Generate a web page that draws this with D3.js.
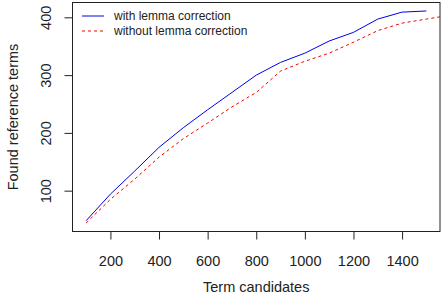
<!DOCTYPE html>
<html>
<head>
<meta charset="utf-8">
<script src="https://cdn.jsdelivr.net/npm/d3@7"></script>
<style>
	body { margin: 0; background: #fff; }
	svg { display: block; font-family: "Liberation Sans", Arial, sans-serif; }
	.lbl { fill: #222; }
</style>
</head>
<body>
<script>
// term candidates (x) and found reference terms (y)
const candidates = [100, 200, 300, 400, 500, 600, 700, 800, 900, 1000, 1100, 1200, 1300, 1400, 1500];
const withLemma = [48, 94, 134, 175, 209, 240, 270, 300, 322, 338, 359, 374, 397, 409, 411];
const candidatesNoLemma = [100, 200, 300, 400, 500, 600, 700, 800, 900, 1000, 1100, 1200, 1300, 1400, 1500, 1600];
const withoutLemma = [44, 85, 120, 158, 190, 217, 245, 270, 307, 324, 338, 357, 377, 390, 397, 404];
const xTicks = [200, 400, 600, 800, 1000, 1200, 1400];
const yTicks = [100, 200, 300, 400];
const seriesNames = ['with lemma correction', 'without lemma correction'];

const W = 445, H = 296;
const mLeft = 72.5, mRight = 440, mTop = 2.5, mBottom = 231.5;
const axisFont = '14.5px';

const svg = d3.select('body').append('svg')
	.attr('width', W)
	.attr('height', H);

// R-style 4% extension of the data range
const ext = (lo, hi) => [lo - (hi - lo) * 0.04, hi + (hi - lo) * 0.04];
const x = d3.scaleLinear()
	.domain(ext(d3.min(candidates), d3.max(candidates)))
	.range([mLeft, mRight]);
const y = d3.scaleLinear()
	.domain(ext(d3.min(withoutLemma.concat(withLemma)), d3.max(withLemma)))
	.range([mBottom, mTop]);

svg.append('defs').append('clipPath').attr('id', 'plotclip')
	.append('rect')
	.attr('x', mLeft).attr('y', mTop)
	.attr('width', mRight - mLeft).attr('height', mBottom - mTop);

// x axis
const xAxis = svg.append('g')
	.attr('transform', `translate(0,${mBottom})`)
	.call(d3.axisBottom(x).tickValues(xTicks).tickFormat(d3.format('d')).tickSize(8).tickPadding(16));
xAxis.select('.domain').remove();
xAxis.selectAll('text').attr('class', 'lbl').style('font-size', axisFont).attr('font-family', null);
xAxis.selectAll('line').attr('stroke', '#222');

// y axis, labels rotated like R
const yAxis = svg.append('g')
	.attr('transform', `translate(${mLeft},0)`)
	.call(d3.axisLeft(y).tickValues(yTicks).tickFormat(d3.format('d')).tickSize(8));
yAxis.select('.domain').remove();
yAxis.selectAll('line').attr('stroke', '#222');
yAxis.selectAll('text')
	.attr('class', 'lbl')
	.style('font-size', axisFont)
	.attr('font-family', null)
	.attr('x', null).attr('dy', null)
	.attr('text-anchor', 'middle')
	.attr('transform', 'translate(-27,0) rotate(-90)')
	.attr('dominant-baseline', 'central');

// box
svg.append('rect')
	.attr('x', mLeft).attr('y', mTop)
	.attr('width', mRight - mLeft).attr('height', mBottom - mTop)
	.attr('fill', 'none')
	.attr('stroke', '#222');

// lines
const line = d3.line().x(d => x(d[0])).y(d => y(d[1]));
const g = svg.append('g').attr('clip-path', 'url(#plotclip)');
g.append('path')
	.datum(candidates.map((c, i) => [c, withLemma[i]]))
	.attr('d', line)
	.attr('fill', 'none')
	.attr('stroke', '#0000ee')
	.attr('stroke-width', 1);
g.append('path')
	.datum(candidatesNoLemma.map((c, i) => [c, withoutLemma[i]]))
	.attr('d', line)
	.attr('fill', 'none')
	.attr('stroke', '#ee0000')
	.attr('stroke-width', 1)
	.attr('stroke-dasharray', '3,3');

// legend
const legend = svg.append('g');
seriesNames.forEach((name, i) => {
	const ly = 16 + i * 15;
	legend.append('line')
		.attr('x1', 82).attr('x2', 104)
		.attr('y1', ly).attr('y2', ly)
		.attr('stroke', i === 0 ? '#0000ee' : '#ee0000')
		.attr('stroke-dasharray', i === 0 ? null : '3,3');
	legend.append('text')
		.attr('class', 'lbl')
		.attr('x', 114).attr('y', ly)
		.attr('dominant-baseline', 'central')
		.style('font-size', '12px')
		.text(name);
});

// axis titles
svg.append('text')
	.attr('class', 'lbl')
	.attr('x', (mLeft + mRight) / 2).attr('y', 292)
	.attr('text-anchor', 'middle')
	.style('font-size', axisFont)
	.text('Term candidates');
svg.append('text')
	.attr('class', 'lbl')
	.attr('transform', `translate(18,${(mTop + mBottom) / 2}) rotate(-90)`)
	.attr('text-anchor', 'middle')
	.style('font-size', axisFont)
	.text('Found reference terms');
</script>
</body>
</html>
